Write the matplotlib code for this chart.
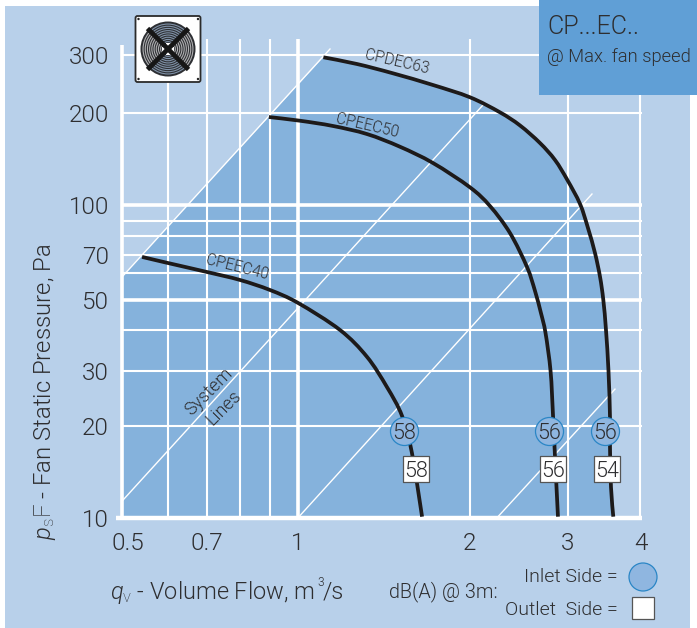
import numpy as np
import matplotlib
matplotlib.use('Agg')
import matplotlib.pyplot as plt
from matplotlib.patches import Rectangle, Circle, FancyBboxPatch, Wedge, PathPatch
from matplotlib.path import Path
from matplotlib.transforms import ScaledTranslation

# ---------- data ----------
outer_q = [1.11, 1.271, 1.469, 1.726, 2.004, 2.269, 2.465, 2.677, 2.849, 2.998, 3.153, 3.254, 3.346, 3.413, 3.458, 3.495, 3.53, 3.551, 3.551, 3.565, 3.598]
outer_p = [295.2, 281.6, 263.8, 243.0, 222.9, 200.5, 181.7, 159.3, 140.2, 120.7, 100.8, 85.1, 70.7, 58.5, 49.9, 40.0, 29.9, 21.3, 17.1, 12.6, 10.1]
middle_q = [0.896, 1.01, 1.154, 1.323, 1.511, 1.726, 2.004, 2.177, 2.365, 2.537, 2.623, 2.688, 2.739, 2.797, 2.825, 2.849, 2.884]
middle_p = [193.6, 188.3, 181.0, 170.4, 154.9, 137.1, 114.2, 99.3, 81.7, 63.1, 53.0, 45.3, 39.2, 29.9, 21.7, 15.8, 10.1]
inner_q = [0.542, 0.6, 0.7, 0.8, 0.9, 1.002, 1.187, 1.323, 1.434, 1.524, 1.586, 1.652]
inner_p = [68.6, 65.2, 60.5, 57.2, 53.4, 48.8, 40.0, 33.1, 26.6, 21.5, 16.3, 10.1]
system_lines = [([0.501, 1.14], [58.4, 312.9]),
                ([0.502, 2.115], [11.4, 211.1]),
                ([1.006, 3.306], [10.1, 108.6]),
                ([2.25, 3.622], [10.1, 26.2])]
inlet_q = [1.535, 2.78, 3.48]
inlet_p = [19.2, 19.2, 19.2]
inlet_db = ['58', '56', '56']
outlet_q = [1.61, 2.825, 3.51]
outlet_p = [14.4, 14.4, 14.4]
outlet_db = ['58', '56', '54']
x_ticks = [0.5, 0.7, 1, 2, 3, 4]
x_labels = ['0.5', '0.7', '1', '2', '3', '4']
y_ticks = [10, 20, 30, 50, 70, 100, 200, 300]
y_labels = ['10', '20', '30', '50', '70', '100', '200', '300']
x_thick = [1]
x_thin = [0.6, 0.7, 0.8, 0.9, 2, 3, 4]
y_thick = [50, 100]
y_thin = [20, 30, 40, 60, 70, 80, 90, 200, 300]

# scale calibration of the printed log grid
xv = [0.1, 0.5, 0.6, 0.7, 0.8, 0.9, 1, 2, 3, 4, 10]
xp = [-288.8, 121.5, 168, 207, 240, 270, 297.5, 469.5, 567.5, 640, 871]
yv = [1, 10, 20, 30, 40, 50, 60, 70, 80, 90, 100, 200, 300, 1000]
yp = [824, 518, 425.8, 370.7, 330, 299.6, 273, 254.5, 235.7, 221, 205, 112.7, 55, -116.5]

W, H = 697, 628
FONT = 'Roboto'
plt.rcParams['font.family'] = [FONT, 'DejaVu Sans']
plt.rcParams['font.weight'] = 300
plt.rcParams['mathtext.fontset'] = 'custom'
plt.rcParams['mathtext.rm'] = FONT + ':light'
plt.rcParams['mathtext.it'] = FONT + ':italic'
plt.rcParams['mathtext.bf'] = FONT + ':bold'
TXT = '#2e2e30'
PANEL = '#b8d0ea'
REGION = '#85b2dc'
BOX = '#609fd6'
INLET = '#8fb6e0'
RING = '#2a86c6'

fig = plt.figure(figsize=(W / 100, H / 100), dpi=100, facecolor='white')

def fx(x, y, w, h):
    return [x / W, 1 - (y + h) / H, w / W, h / H]

fig.patches.append(Rectangle((5 / W, 0), 685 / W, 622 / H, transform=fig.transFigure, fc=PANEL, ec='none', zorder=-5))
fig.patches.append(Rectangle((539 / W, 1 - 95 / H), 158 / W, 95 / H, transform=fig.transFigure, fc=BOX, ec='none', zorder=5))

ax = fig.add_axes(fx(121.5, 55, 640 - 121.5, 518 - 55))
ax.patch.set_alpha(0)
lxv, hxp = np.log10(xv), np.array(xp)
lyv, hyp = np.log10(yv), H - np.array(yp)
ax.set_xscale('function', functions=(lambda v: np.interp(np.log10(np.maximum(v, 1e-3)), lxv, hxp),
                                     lambda p: 10 ** np.interp(p, hxp, lxv)))
ax.set_yscale('function', functions=(lambda v: np.interp(np.log10(np.maximum(v, 1e-3)), lyv, hyp),
                                     lambda p: 10 ** np.interp(p, hyp, lyv)))
ax.set_xlim(0.5, 4)
ax.set_ylim(10, 300)
for s in ax.spines.values():
    s.set_visible(False)


def curve_vertices(q, p):
    """Control points of a smooth curve through the read points (data coords)."""
    pts = ax.transData.transform(np.column_stack([q, p]))
    n = len(pts)
    verts = [pts[0]]
    for i in range(n - 1):
        p0, p1, p2, p3 = pts[max(i - 1, 0)], pts[i], pts[i + 1], pts[min(i + 2, n - 1)]
        verts += [p1 + (p2 - p0) / 6, p2 - (p3 - p1) / 6, p2]
    return ax.transData.inverted().transform(np.array(verts))


def curve_path(q, p):
    v = curve_vertices(q, p)
    return Path(v, [Path.MOVETO] + [Path.CURVE4] * (len(v) - 1))


# shaded region under the outermost curve
ov = curve_vertices(outer_q, outer_p)
fill_v = np.vstack([[[0.5, 10], [0.5, 58.4]], ov, [[outer_q[-1], 10], [0.5, 10]]])
fill_c = [Path.MOVETO, Path.LINETO, Path.LINETO] + [Path.CURVE4] * (len(ov) - 1) + [Path.LINETO, Path.LINETO]
ax.add_patch(PathPatch(Path(fill_v, fill_c), fc=REGION, ec='none', lw=0, zorder=1, clip_on=False))

# grid
G = dict(color='white', zorder=2, clip_on=False)
X_END, Y_TOP = 4.03, 336
ax.vlines([0.5], 10, 322, lw=2.6, **G)
ax.vlines(x_thick, 10, Y_TOP, lw=2.6, **G)
ax.vlines(x_thin, 10, Y_TOP, lw=1.5, **G)
ax.hlines(y_thick, 0.5, X_END, lw=2.6, **G)
ax.hlines(y_thin, 0.5, X_END, lw=1.5, **G)
ax.hlines([10], 0.49, X_END, lw=3.2, **G)

for q, p in system_lines:
    ax.plot(q, p, color='white', lw=1.0, zorder=3, clip_on=False)

for q, p in [(outer_q, outer_p), (middle_q, middle_p), (inner_q, inner_p)]:
    ax.add_patch(PathPatch(curve_path(q, p), fc='none', ec='#1d1a1a', lw=2.7, zorder=4, clip_on=False, capstyle='butt'))

# dB markers
ax.scatter(inlet_q, inlet_p, s=(2 * 14 * 0.72) ** 2, marker='o', fc=INLET, ec=RING, lw=0.9, zorder=6, clip_on=False)
ax.scatter(outlet_q, outlet_p, s=(27 * 0.72) ** 2, marker='s', fc='white', ec='#555555', lw=0.9, zorder=6, clip_on=False)
for q, p, t in zip(inlet_q + outlet_q, inlet_p + outlet_p, inlet_db + outlet_db):
    ax.text(q, p, t, ha='center', va='center_baseline', fontsize=15.5, color=TXT, zorder=7)

# ticks
ax.set_xticks(x_ticks, x_labels)
ax.set_yticks(y_ticks, y_labels)
ax.minorticks_off()
ax.tick_params(axis='both', length=0, labelsize=17.5, labelcolor=TXT)
ax.tick_params(axis='x', pad=10)
ax.tick_params(axis='y', pad=9)
lab0 = ax.get_xticklabels()[0]
lab0.set_transform(lab0.get_transform() + ScaledTranslation(6 / 100, 0, fig.dpi_scale_trans))
lab4 = ax.get_xticklabels()[-1]
lab4.set_transform(lab4.get_transform() + ScaledTranslation(1 / 100, 0, fig.dpi_scale_trans))

def ftext(x, y, s, **kw):
    kw.setdefault('color', TXT)
    kw.setdefault('zorder', 8)
    fig.text(x / W, 1 - y / H, s, **kw)

ftext(397, 62, 'CPDEC63', fontsize=11.2, rotation=-13, ha='center', va='center')
ftext(367, 126, 'CPEEC50', fontsize=11.2, rotation=-13, ha='center', va='center')
ftext(237, 267, 'CPEEC40', fontsize=11.2, rotation=-14, ha='center', va='center')
ftext(209, 392, 'System', fontsize=13, rotation=45, ha='center', va='center')
ftext(224, 408, 'Lines', fontsize=13, rotation=45, ha='center', va='center')
ftext(547, 27, 'CP...EC..', fontsize=18, ha='left', va='center')
ftext(547, 57, '@ Max. fan speed', fontsize=13.2, ha='left', va='center')
ftext(45, 392, r'$\mathit{p}_{\mathrm{s}}\mathrm{F}$ - Fan Static Pressure, Pa', fontsize=17.2, rotation=90, ha='center', va='center')
ftext(110, 592, r'$\mathit{q}_{\mathrm{v}}$ - Volume Flow, m', fontsize=16.9, ha='left', va='center')
ftext(317, 583, '3', fontsize=8.5, ha='left', va='center')
ftext(323, 592, '/s', fontsize=16.9, ha='left', va='center')
ftext(389, 592, 'dB(A) @ 3m:', fontsize=14.2, ha='left', va='center')
ftext(618, 577, 'Inlet Side =', fontsize=14, ha='right', va='center')
ftext(618, 610, 'Outlet  Side =', fontsize=14, ha='right', va='center')

# legend symbols
lax = fig.add_axes([0, 0, 1, 1], zorder=9)
lax.set_xlim(0, W)
lax.set_ylim(H, 0)
lax.axis('off')
lax.add_patch(Circle((643, 577), 14, fc=INLET, ec=RING, lw=0.9))
lax.add_patch(Rectangle((632, 597), 22, 22, fc='white', ec='#555555', lw=0.9))

# fan icon
lax.add_patch(FancyBboxPatch((135.5, 16), 65, 66, boxstyle='round,pad=0,rounding_size=2', fc='white', ec='#2b2b2b', lw=1.3))
for cx, cy in [(138.5, 19), (198, 19), (138.5, 79), (198, 79)]:
    lax.add_patch(Circle((cx, cy), 1.2, fc='#222222', ec='none'))
C = (168, 49)
lax.add_patch(Circle(C, 27.5, fc='#2d2f33', ec='none'))
for a in range(0, 360, 90):
    for r in np.arange(25.5, 7, -2.2):
        lax.add_patch(Wedge(C, r, a - 40, a + 40, width=1.1, fc='#b0b0b2' if a % 180 == 0 else '#8092a8', ec='none'))
for a in (45, 135):
    t = np.deg2rad(a)
    dx, dy = 29 * np.cos(t), 29 * np.sin(t)
    lax.plot([C[0] - dx, C[0] + dx], [C[1] - dy, C[1] + dy], color='#161616', lw=3.4, solid_capstyle='butt')
lax.add_patch(Rectangle((C[0] - 6, C[1] - 2.5), 12, 5, fc='white', ec='none'))
lax.add_patch(Rectangle((C[0] - 2.5, C[1] - 6), 5, 12, fc='white', ec='none'))
lax.add_patch(Circle(C, 2.2, fc='white', ec='#222222', lw=0.8))

fig.savefig('out.png', dpi=100, facecolor='white')
